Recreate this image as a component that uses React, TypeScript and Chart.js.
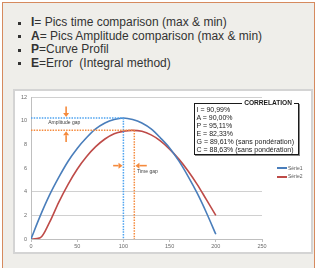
import React, { useEffect, useRef } from "react";
import { Chart, registerables } from "chart.js";
Chart.register(...registerables);

const xValues = [0, 10, 20, 30, 40, 50, 60, 70, 80, 90, 100, 110, 120, 130, 140, 150, 160, 170, 180, 190, 200];
const serie1 = [0, 1.95, 3.7, 5.2, 6.55, 7.65, 8.55, 9.3, 9.8, 10.1, 10.23, 10.1, 9.8, 9.3, 8.55, 7.7, 6.6, 5.3, 3.85, 2.2, 0.4];
const serie2 = [0, 0.1, 1.4, 3.1, 4.6, 5.9, 6.95, 7.8, 8.45, 8.9, 9.1, 9.18, 9.1, 8.8, 8.3, 7.6, 6.75, 5.75, 4.6, 3.3, 2.0];
const seriesNames = ["Série1", "Série2"];
const yTicks = [0, 2, 4, 6, 8, 10, 12];
const xTicks = [0, 50, 100, 150, 200, 250];

const bluePeak = { x: 100, y: 10.23 };
const redPeak = { x: 111.8, y: 9.18 };
const ampArrowX = 38;
const ampArrowTop = [11.2, 10.3];
const ampArrowBottom = [8.2, 9.1];
const timeArrowY = 6.2;
const timeArrowLeft = [88.9, 99.0];
const timeArrowRight = [125.3, 113.0];
const ampLabel = { x: 18.7, y: 9.8, text: "Amplitude gap" };
const timeLabel = { x: 114.8, y: 5.7, text: "Time gap" };

const bullets = [
  { key: "I", text: "= Pics time comparison (max & min)" },
  { key: "A", text: "= Pics Amplitude comparison (max & min)" },
  { key: "P", text: "=Curve Profil" },
  { key: "E", text: "=Error  (Integral method)" },
];

const correlationTitle = "CORRELATION";
const correlationLines = [
  "I = 90,99%",
  "A = 90,00%",
  "P = 95,11%",
  "E = 82,33%",
  "G = 89,61% (sans pondération)",
  "C = 88,63% (sans pondération)",
];

const BLUE = "#4a7ebb";
const RED = "#be4b48";
const ORANGE = "#f58a3c";
const DOT_BLUE = "#4da3f0";
const FONT = "'Liberation Sans', Arial, sans-serif";

function drawArrow(ctx: CanvasRenderingContext2D, x1: number, y1: number, x2: number, y2: number) {
  const ang = Math.atan2(y2 - y1, x2 - x1);
  const head = 4;
  const hw = 3;
  ctx.save();
  ctx.strokeStyle = ORANGE;
  ctx.fillStyle = ORANGE;
  ctx.lineWidth = 1.6;
  ctx.beginPath();
  ctx.moveTo(x1, y1);
  ctx.lineTo(x2 - Math.cos(ang) * head, y2 - Math.sin(ang) * head);
  ctx.stroke();
  ctx.beginPath();
  ctx.moveTo(x2, y2);
  ctx.lineTo(x2 - Math.cos(ang) * head - Math.sin(ang) * hw, y2 - Math.sin(ang) * head + Math.cos(ang) * hw);
  ctx.lineTo(x2 - Math.cos(ang) * head + Math.sin(ang) * hw, y2 - Math.sin(ang) * head - Math.cos(ang) * hw);
  ctx.closePath();
  ctx.fill();
  ctx.restore();
}

const gapPlugin = {
  id: "gaps",
  afterDatasetsDraw(chart: any) {
    const { ctx, scales } = chart;
    const xs = scales.x;
    const ys = scales.y;
    const px = (v: number) => xs.getPixelForValue(v);
    const py = (v: number) => ys.getPixelForValue(v);
    ctx.save();
    ctx.lineWidth = 1.5;
    ctx.setLineDash([1.5, 1.2]);
    ctx.strokeStyle = DOT_BLUE;
    ctx.beginPath();
    ctx.moveTo(px(0), py(bluePeak.y));
    ctx.lineTo(px(bluePeak.x), py(bluePeak.y));
    ctx.moveTo(px(bluePeak.x), py(bluePeak.y));
    ctx.lineTo(px(bluePeak.x), py(0));
    ctx.stroke();
    ctx.strokeStyle = ORANGE;
    ctx.beginPath();
    ctx.moveTo(px(0), py(redPeak.y));
    ctx.lineTo(px(redPeak.x), py(redPeak.y));
    ctx.moveTo(px(redPeak.x), py(redPeak.y));
    ctx.lineTo(px(redPeak.x), py(0));
    ctx.stroke();
    ctx.setLineDash([]);
    ctx.restore();

    drawArrow(ctx, px(ampArrowX), py(ampArrowTop[0]), px(ampArrowX), py(ampArrowTop[1]));
    drawArrow(ctx, px(ampArrowX), py(ampArrowBottom[0]), px(ampArrowX), py(ampArrowBottom[1]));
    drawArrow(ctx, px(timeArrowLeft[0]), py(timeArrowY), px(timeArrowLeft[1]), py(timeArrowY));
    drawArrow(ctx, px(timeArrowRight[0]), py(timeArrowY), px(timeArrowRight[1]), py(timeArrowY));

    ctx.save();
    ctx.fillStyle = "#404040";
    ctx.font = `5px ${FONT}`;
    ctx.textBaseline = "middle";
    ctx.textAlign = "left";
    ctx.fillText(ampLabel.text, px(ampLabel.x), py(ampLabel.y));
    ctx.fillText(timeLabel.text, px(timeLabel.x), py(timeLabel.y));
    ctx.restore();
  },
};

export default function App() {
  const ref = useRef<HTMLCanvasElement | null>(null);

  useEffect(() => {
    document.body.style.margin = "0";
    if (!ref.current) return;
    const chart = new Chart(ref.current, {
      type: "line",
      data: {
        datasets: [
          {
            label: seriesNames[0],
            data: xValues.map((x, i) => ({ x, y: serie1[i] })),
            borderColor: BLUE,
            borderWidth: 1.6,
            pointRadius: 0,
            tension: 0.4,
            cubicInterpolationMode: "monotone",
          },
          {
            label: seriesNames[1],
            data: xValues.map((x, i) => ({ x, y: serie2[i] })),
            borderColor: RED,
            borderWidth: 1.6,
            pointRadius: 0,
            tension: 0.4,
            cubicInterpolationMode: "monotone",
          },
        ],
      },
      options: {
        animation: false,
        responsive: false,
        maintainAspectRatio: false,
        layout: { padding: { left: 0, right: 50, top: 8, bottom: 0 } },
        plugins: { legend: { display: false }, tooltip: { enabled: false } },
        scales: {
          x: {
            type: "linear",
            min: 0,
            max: 250,
            afterBuildTicks: (s: any) => {
              s.ticks = xTicks.map((v) => ({ value: v }));
            },
            afterFit: (s: any) => {
              s.height = 15;
            },
            grid: { display: true, drawOnChartArea: false, drawTicks: true, tickLength: 3, color: "#bfbfbf" },
            border: { display: true, color: "#bfbfbf", width: 1 },
            ticks: { font: { size: 5.5, family: FONT }, color: "#6a6a6a", padding: 1, maxRotation: 0 },
          },
          y: {
            type: "linear",
            min: 0,
            max: 12,
            afterBuildTicks: (s: any) => {
              s.ticks = yTicks.map((v) => ({ value: v }));
            },
            afterFit: (s: any) => {
              s.width = 18;
            },
            grid: {
              drawTicks: false,
              color: (c: any) => (c.tick && [6, 8, 10].includes(c.tick.value) ? "rgba(0,0,0,0)" : "#d0d0d0"),
            },
            border: { display: true, color: "#bfbfbf", width: 1 },
            ticks: { font: { size: 5.5, family: FONT }, color: "#6a6a6a", padding: 4 },
          },
        },
      },
      plugins: [gapPlugin],
    } as any);
    return () => chart.destroy();
  }, []);

  return (
    <div style={{ position: "fixed", left: 0, top: 0, width: 318, height: 268, background: "#ffffff", overflow: "hidden", fontFamily: FONT }}>
      <div
        style={{
          position: "absolute",
          left: 2,
          top: 2,
          width: 313,
          height: 280,
          background: "#efeeea",
          border: "1.5px solid #d68a5e",
          boxSizing: "border-box",
        }}
      />
      {bullets.map((b, i) => (
        <div
          key={b.key}
          style={{
            position: "absolute",
            left: 31,
            top: 16 + i * 13.5,
            height: 13.5,
            lineHeight: "13.5px",
            fontSize: 12,
            color: "#333333",
            whiteSpace: "pre",
          }}
        >
          <span style={{ position: "absolute", left: -13, top: 5.5, width: 3, height: 3, background: "#333333" }} />
          <b>{b.key}</b>
          {b.text}
        </div>
      ))}
      <div
        style={{
          position: "absolute",
          left: 13,
          top: 89,
          width: 300,
          height: 165,
          background: "#ffffff",
          border: "2px solid #d4d4d4",
          boxSizing: "border-box",
        }}
      />
      <canvas ref={ref} width={299} height={165} style={{ position: "absolute", left: 13, top: 89, width: 299, height: 165 }} />
      <div
        style={{
          position: "absolute",
          left: 194,
          top: 103,
          width: 105,
          height: 52,
          background: "#ffffff",
          border: "1.5px solid #1a1a1a",
          boxSizing: "border-box",
          boxShadow: "1px 1px 0 #888",
        }}
      >
        <div
          style={{
            position: "absolute",
            right: 4,
            top: -5,
            padding: "0 2px",
            background: "#ffffff",
            fontSize: 6.6,
            fontWeight: "bold",
            color: "#1a1a1a",
            lineHeight: "8px",
          }}
        >
          {correlationTitle}
        </div>
        {correlationLines.map((t, i) => (
          <div
            key={i}
            style={{
              position: "absolute",
              left: 1.5,
              top: 2 + i * 8,
              fontSize: 7,
              lineHeight: "8px",
              color: "#1a1a1a",
              whiteSpace: "nowrap",
            }}
          >
            {t}
          </div>
        ))}
      </div>
      {seriesNames.map((n, i) => (
        <div key={n} style={{ position: "absolute", left: 277, top: 164.5 + i * 8.7, height: 6, fontSize: 5, lineHeight: "6px", color: "#595959", whiteSpace: "nowrap" }}>
          <span style={{ display: "inline-block", width: 10, height: 1.6, background: i === 0 ? BLUE : RED, verticalAlign: "middle", marginRight: 1 }} />
          {n}
        </div>
      ))}
    </div>
  );
}
